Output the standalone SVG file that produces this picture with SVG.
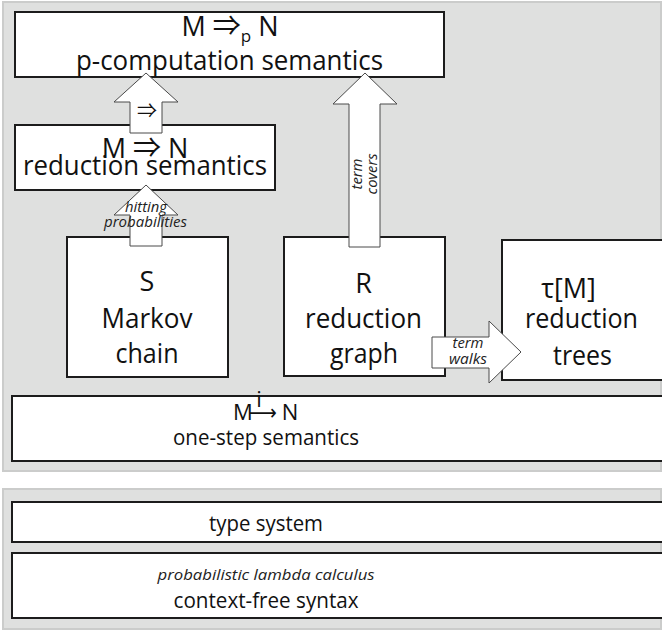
<svg xmlns="http://www.w3.org/2000/svg" width="662" height="630" viewBox="0 0 662 630">
<style>
.panel{fill:#dfe0df;stroke:#cbcccb;stroke-width:2}
.box{fill:#fff;stroke:#1c1c1c;stroke-width:2}
.arr{fill:#fff;stroke:#4a4a4a;stroke-width:1}
text{font-family:"Open Sans","Liberation Sans",sans-serif;fill:#111;text-anchor:middle}
.big{font-size:27px}
.low{font-size:22px}
.lbl{font-size:14.5px;font-style:italic;fill:#222}
.sym{font-family:"Noto Sans CJK JP","DejaVu Sans",sans-serif}
.dv{font-family:"DejaVu Sans",sans-serif}
</style>
<rect class="panel" x="3" y="2" width="658" height="469"/>
<rect class="panel" x="3" y="489" width="658" height="140"/>

<g id="pcomp">
<rect class="box" x="15" y="12" width="429" height="65"/>
<text class="big" x="230" y="36" font-size="28">M <tspan class="sym" font-size="28">⇒</tspan><tspan font-size="17" dy="6">p</tspan><tspan dy="-6"> N</tspan></text>
<text class="big" x="229.5" y="70" textLength="307" lengthAdjust="spacingAndGlyphs">p-computation semantics</text>
</g>
<g id="redsem">
<rect class="box" x="15" y="125" width="260" height="65"/>
<text class="big" x="145" y="158" font-size="28">M <tspan class="sym" font-size="28">⇒</tspan> N</text>
<text class="big" x="145" y="175" textLength="244" lengthAdjust="spacingAndGlyphs">reduction semantics</text>
</g>
<g id="markov">
<rect class="box" x="67" y="237" width="161" height="140"/>
<text class="big" x="147" y="291">S</text>
<text class="big" x="147" y="328" textLength="91" lengthAdjust="spacingAndGlyphs">Markov</text>
<text class="big" x="147" y="363" textLength="63" lengthAdjust="spacingAndGlyphs">chain</text>
</g>
<g id="rgraph">
<rect class="box" x="284" y="237" width="161" height="139"/>
<text class="big" x="363.5" y="293">R</text>
<text class="big" x="363.5" y="328" textLength="117" lengthAdjust="spacingAndGlyphs">reduction</text>
<text class="big" x="364" y="363" textLength="68" lengthAdjust="spacingAndGlyphs">graph</text>
</g>
<g id="trees">
<rect class="box" x="502" y="240" width="162" height="140"/>
<text class="big" x="568.5" y="298">τ[M]</text>
<text class="big" x="581.5" y="328" textLength="113" lengthAdjust="spacingAndGlyphs">reduction</text>
<text class="big" x="582.5" y="365" textLength="59" lengthAdjust="spacingAndGlyphs">trees</text>
</g>
<g id="onestep">
<rect class="box" x="12" y="396" width="652" height="65"/>
<text class="low" x="243" y="420">M</text>
<text class="low dv" x="263" y="420" font-size="20" textLength="28" lengthAdjust="spacingAndGlyphs">⟶</text>
<text class="low" x="259" y="407" font-size="15">i</text>
<text class="low" x="290" y="420">N</text>
<text class="low" x="266" y="445" textLength="186" lengthAdjust="spacingAndGlyphs">one-step semantics</text>
</g>
<g id="typesys">
<rect class="box" x="12" y="502" width="652" height="40"/>
<text class="low" x="266" y="531" textLength="114" lengthAdjust="spacingAndGlyphs">type system</text>
</g>
<g id="syntax">
<rect class="box" x="12" y="553" width="652" height="65"/>
<text class="lbl" x="266" y="580" font-size="16.5" textLength="217" lengthAdjust="spacingAndGlyphs">probabilistic lambda calculus</text>
<text class="low" x="266" y="608" textLength="185" lengthAdjust="spacingAndGlyphs">context-free syntax</text>
</g>

<g id="connectors">
<polygon class="arr" points="146,73 178,102 162,102 162,133 130,133 130,102 114,102"/>
<text class="sym" x="147" y="118" font-size="20">⇒</text>
<polygon class="arr" points="146,185 178,215 162,215 162,246 130,246 130,215 114,215"/>
<text class="lbl" x="146" y="212" textLength="42" lengthAdjust="spacingAndGlyphs">hitting</text>
<text class="lbl" x="145.5" y="227" textLength="83" lengthAdjust="spacingAndGlyphs">probabilities</text>
<polygon class="arr" points="365,73 397,104 380,104 380,247 349,247 349,104 333,104"/>
<text class="lbl" transform="translate(362,174) rotate(-90)" x="0" y="0" textLength="31" lengthAdjust="spacingAndGlyphs">term</text>
<text class="lbl" transform="translate(377,174) rotate(-90)" x="0" y="0" textLength="41" lengthAdjust="spacingAndGlyphs">covers</text>
<polygon class="arr" points="521,352 489,383 489,368 432,368 432,337 489,337 489,321"/>
<text class="lbl" x="468" y="348" textLength="31" lengthAdjust="spacingAndGlyphs">term</text>
<text class="lbl" x="468" y="364" textLength="38" lengthAdjust="spacingAndGlyphs">walks</text>
</g>
</svg>
